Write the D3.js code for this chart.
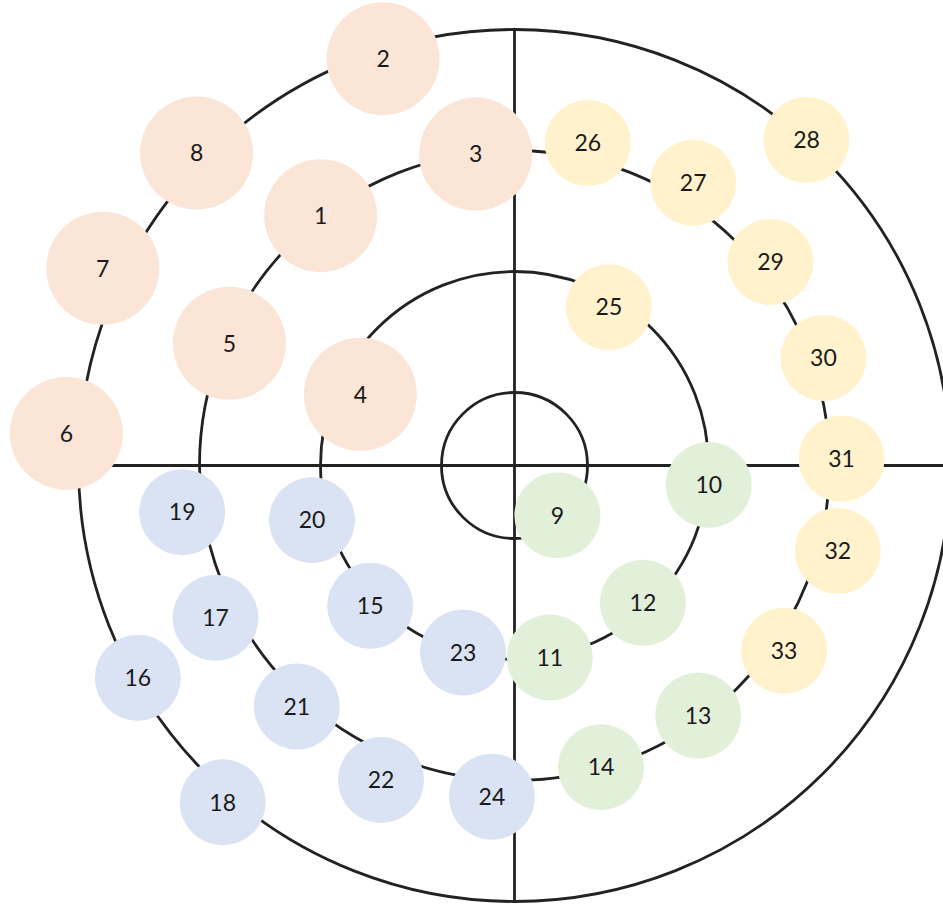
<!DOCTYPE html>
<html>
<head>
<meta charset="utf-8">
<script src="https://cdn.jsdelivr.net/npm/d3@7"></script>
<style>
  html, body { margin: 0; padding: 0; background: #fff; }
  svg { display: block; }
</style>
</head>
<body>
<div id="chart"></div>
<script>
// ring levels (the concentric circles)
const ringLevels = [1, 2, 3, 4];

// markers: label, angle (deg clockwise from top), radial position in ring units, group
const markerLabels = [1, 2, 3, 4, 5, 6, 7, 8, 9, 10, 11, 12, 13, 14, 15, 16, 17,
  18, 19, 20, 21, 22, 23, 24, 25, 26, 27, 28, 29, 30, 31, 32, 33];
const markerAngles = [322.2, 342.1, 352.9, 294.8, 293.2, 274.1, 295.6, 314.5,
  139.3, 95.7, 169.6, 136.9, 143.7, 164.0,
  225.8, 240.6, 243.0, 220.9, 262.0, 254.9, 222.1, 203.0, 195.4, 183.9,
  30.8, 12.8, 32.3, 41.9, 51.5, 70.8, 88.8, 104.8, 124.5];
const markerRadii = [3.01, 3.93, 2.99, 1.80, 2.96, 4.11, 4.17, 4.08,
  0.94, 2.01, 2.01, 1.95, 2.96, 2.99,
  2.06, 3.97, 3.17, 4.08, 3.17, 2.13, 3.08, 3.22, 2.00, 3.14,
  1.92, 3.13, 3.16, 4.01, 3.10, 3.10, 3.10, 3.16, 3.10];
const markerGroups = ['A', 'A', 'A', 'A', 'A', 'A', 'A', 'A',
  'B', 'B', 'B', 'B', 'B', 'B',
  'C', 'C', 'C', 'C', 'C', 'C', 'C', 'C', 'C', 'C',
  'D', 'D', 'D', 'D', 'D', 'D', 'D', 'D', 'D'];

const width = 943;
const height = 905;
const cx = 514.5;
const cy = 465.5;

const svg = d3.select('#chart')
  .append('svg')
  .attr('width', width)
  .attr('height', height)

const rScale = d3.scaleLinear()
  .domain([1, 4])
  .range([73, 436])

const colorScale = d3.scaleOrdinal()
  .domain(['A', 'B', 'C', 'D'])
  .range(['#FBE5D6', '#E2F0D9', '#DAE3F3', '#FFF2CC'])

const sizeScale = d3.scaleOrdinal()
  .domain(['A', 'B', 'C', 'D'])
  .range([56.5, 43, 43, 43])

const markers = markerLabels.map((label, i) => ({
  label: label,
  angle: markerAngles[i],
  r: markerRadii[i],
  group: markerGroups[i]
}));

const g = svg.append('g')
  .attr('transform', `translate(${cx}, ${cy})`)

const rMax = rScale(d3.max(ringLevels));

// axes cross
g.append('line')
  .attr('x1', -rMax).attr('x2', rMax)
  .attr('y1', 0).attr('y2', 0)
  .attr('stroke', '#222')
  .attr('stroke-width', 2.8)

g.append('line')
  .attr('x1', 0).attr('x2', 0)
  .attr('y1', -rMax).attr('y2', rMax)
  .attr('stroke', '#222')
  .attr('stroke-width', 2.8)

// rings
g.append('g')
  .selectAll('circle')
  .data(ringLevels)
  .enter()
  .append('circle')
  .attr('r', (d) => rScale(d))
  .attr('fill', 'none')
  .attr('stroke', '#222')
  .attr('stroke-width', 2.8)

const pos = (d) => {
  const a = d.angle * Math.PI / 180;
  const r = rScale(d.r);
  return [r * Math.sin(a), -r * Math.cos(a)];
};

const node = g.append('g')
  .selectAll('g')
  .data(markers)
  .enter()
  .append('g')
  .attr('transform', (d) => `translate(${pos(d)[0]}, ${pos(d)[1]})`)

node.append('circle')
  .attr('r', (d) => sizeScale(d.group))
  .attr('fill', (d) => colorScale(d.group))

node.append('text')
  .text((d) => d.label)
  .attr('text-anchor', 'middle')
  .attr('dy', '0.36em')
  .attr('font-family', 'Lato, "Open Sans", sans-serif')
  .attr('font-size', 23)
  .attr('fill', '#1a1a1a')
</script>
</body>
</html>
